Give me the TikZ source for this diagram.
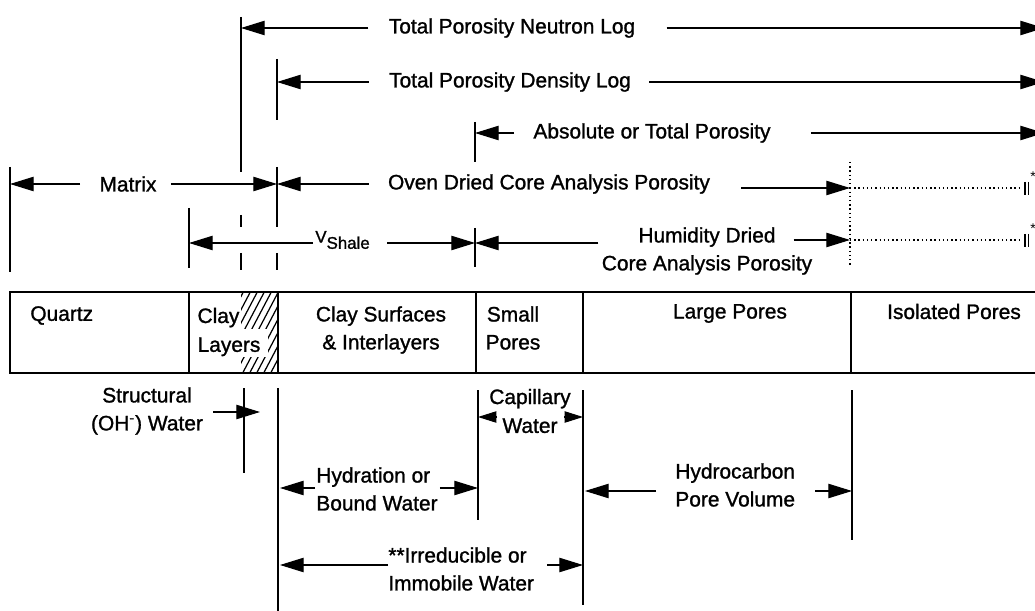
\documentclass[tikz,border=0pt]{standalone}
\usepackage{fontspec}
\setmainfont{Liberation Sans}[BoldFont={Liberation Sans}, BoldFeatures={FakeBold=1.2}]
\usetikzlibrary{arrows.meta,calc}
\newcommand{\mylbf}{\fontsize{11.9}{15.9}\selectfont\bfseries}
\newcommand{\mylbfw}{\fontsize{11.9}{16.4}\selectfont\bfseries}
\begin{document}
\begin{tikzpicture}[x=0.02cm,y=-0.02cm,
  lbl/.style={font=\mylbf, inner sep=0pt, align=center},
  arr/.style={-{Triangle[length=13.5pt,width=8.2pt]}, line width=0.6pt},
  sarr/.style={-{Triangle[length=10.5pt,width=6.5pt]}, line width=0.6pt},
  ln/.style={line width=0.6pt},
  dotl/.style={line width=0.8pt, dash pattern=on 0.8pt off 1.6pt},
  hatchl/.style={line width=0.7pt}]
\useasboundingbox (0,0) rectangle (1035,611);

% ---------- box ----------
\draw[ln] (1040,292) -- (10,292) -- (10,373) -- (1040,373);
\foreach \x in {189,278,476,583,851} \draw[ln] (\x,292) -- (\x,373);
\begin{scope}
  \clip (241,293) rectangle (277,372);
  \foreach \i in {0,...,24} \draw[hatchl] ({190+7*\i},380) -- ({240+7*\i},285);
\end{scope}
\fill[white] (241,329) rectangle (268,357);

% ---------- coordinates ----------
\coordinate (nT) at (241,17);  \coordinate (nB) at (241,172);
\coordinate (dT) at (277,59);  \coordinate (dB) at (277,120);
\coordinate (aT) at (475,122); \coordinate (aB) at (475,162);
\coordinate (mT) at (10,167);  \coordinate (mB) at (10,272);
\coordinate (oT) at (277,167); \coordinate (oB) at (277,227);
\coordinate (vT) at (189,208); \coordinate (vB) at (189,268);
\coordinate (hT) at (475,228); \coordinate (hB) at (475,267);
\coordinate (qT) at (850,162); \coordinate (qB) at (850,266);
\coordinate (rE) at (1044,0);
\coordinate (eO) at (1022,188); \coordinate (eH) at (1022,240);
\coordinate (sT) at (244,388); \coordinate (sB) at (244,473);
\coordinate (cT) at (278,388); \coordinate (cB) at (278,611);
\coordinate (pT) at (478,390); \coordinate (pB) at (478,520);
\coordinate (wT) at (583,390); \coordinate (wB) at (583,605);
\coordinate (iT) at (852,390); \coordinate (iB) at (852,540);

% ---------- top labels ----------
\node[lbl] (neut) at (512,28) {Total Porosity Neutron Log};
\node[lbl] (dens) at (510,82) {Total Porosity Density Log};
\node[lbl] (abso) at (652,133) {Absolute or Total Porosity};
\node[lbl] (matr) at (128,184) {Matrix};
\node[lbl] (oven) at (549,184) {Oven Dried Core Analysis Porosity};
\node[lbl, anchor=west] (vsh) at (315,240) {\fontsize{9.6}{11}\selectfont V\raisebox{-3.5pt}{Shale}};
\node[lbl] (humi) at (707,251) {Humidity Dried\\Core Analysis Porosity};

% ---------- ticks ----------
\draw[ln] (nT) -- (nB);
\draw[ln] (241,215) -- (241,227);
\draw[ln] (241,253) -- (241,270);
\draw[ln] (dT) -- (dB);
\draw[ln] (oT) -- (oB);
\draw[ln] (277,253) -- (277,270);
\draw[ln] (aT) -- (aB);
\draw[ln] (hT) -- (hB);
\draw[ln] (mT) -- (mB);
\draw[ln] (vT) -- (vB);
\draw[dotl] (qT) -- (qB);

% ---------- top arrows ----------
\draw[arr] ($(neut.west)+(-20,0)$) -- (nT |- neut.west);
\draw[arr] ($(neut.east)+(31,0)$) -- (rE |- neut.east);
\draw[arr] ($(dens.west)+(-20,0)$) -- (dT |- dens.west);
\draw[arr] ($(dens.east)+(18,0)$) -- (rE |- dens.east);
\draw[arr] ($(abso.west)+(-19,0)$) -- (aT |- abso.west);
\draw[arr] ($(abso.east)+(40,0)$) -- (rE |- abso.east);
\draw[arr] ($(matr.west)+(-19,0)$) -- (mT |- matr.west);
\draw[arr] ($(matr.east)+(14,0)$) -- (oT |- matr.east);
\draw[arr] ($(oven.west)+(-19,0)$) -- (oT |- oven.west);
\draw[arr] ($(oven.east)+(31,4)$) -- (qT |- eO);
\draw[dotl] (qT |- eO) -- (eO);
\draw[arr] ($(vsh.west)+(-2,3)$) -- (vT |- 0,243);
\draw[arr] ($(vsh.east)+(17,3)$) -- (hT |- 0,243);
\draw[arr] ($(humi.west)+(-3,-8)$) -- (hT |- 0,243);
\draw[arr] ($(humi.east)+(-19,-11)$) -- (qT |- eH);
\draw[dotl] (qT |- eH) -- (eH);

% right-edge marks
\draw[line width=0.9pt] (1025,182) -- (1025,195);
\draw[line width=0.9pt] (1028.5,182) -- (1028.5,195);
\draw[line width=0.9pt] (1025,234) -- (1025,247);
\draw[line width=0.9pt] (1028.5,234) -- (1028.5,247);
\node[inner sep=0pt, font=\fontsize{8}{8}\selectfont] (st1) at (1033,177) {*};
\node[inner sep=0pt, font=\fontsize{8}{8}\selectfont] (st2) at (1033,229) {*};

% ---------- box labels ----------
\node[lbl, anchor=west] (quar) at (30,315.5) {Quartz};
\node[lbl, font=\mylbfw] (clay) at (229,332) {Clay\rule{12pt}{0pt}\\Layers};
\node[lbl] (surf) at (381,330) {Clay Surfaces\\\& Interlayers};
\node[lbl] (smal) at (513,328) {Small\\Pores};
\node[lbl] (larg) at (730,313.5) {Large Pores};
\node[lbl] (isol) at (954,311.5) {Isolated Pores};

% ---------- lower part ----------
\draw[ln] (sT) -- (sB);
\draw[ln] (cT) -- (cB);
\draw[ln] (pT) -- (pB);
\draw[ln] (wT) -- (wB);
\draw[ln] (iT) -- (iB);

\node[lbl] (stru) at (147,411) {Structural\\(OH\textsuperscript{-}) Water};
\node[lbl, font=\mylbfw] (capi) at (530,411) {Capillary\\Water};
\node[lbl, align=left, anchor=west] (hydr) at (316,489) {Hydration or\\Bound Water};
\node[lbl, align=left, anchor=west] (irre) at (388,569) {**Irreducible or\\Immobile Water};
\node[lbl, align=left, anchor=west] (hcpv) at (675,485) {Hydrocarbon\\Pore Volume};

\draw[arr] ($(stru.east)+(10,1)$) -- ($(sT |- 0,412)+(16,0)$);
\draw[sarr] (497,417) -- (pT |- 0,417);
\draw[sarr] (564,417) -- (wT |- 0,417);
\draw[arr] ($(hydr.west)+(-1,-1)$) -- ($(cT |- 0,488)+(2,0)$);
\draw[arr] ($(hydr.east)+(2,-1)$) -- (pT |- 0,488);
\draw[arr] ($(irre.west)+(0,-4)$) -- ($(cT |- 0,565)+(2,0)$);
\draw[arr] ($(irre.east)+(13,-4)$) -- (wT |- 0,565);
\draw[arr] ($(hcpv.west)+(-19,6)$) -- ($(wT |- 0,491)+(2,0)$);
\draw[arr] ($(hcpv.east)+(20,6)$) -- (iT |- 0,491);
\end{tikzpicture}
\end{document}
